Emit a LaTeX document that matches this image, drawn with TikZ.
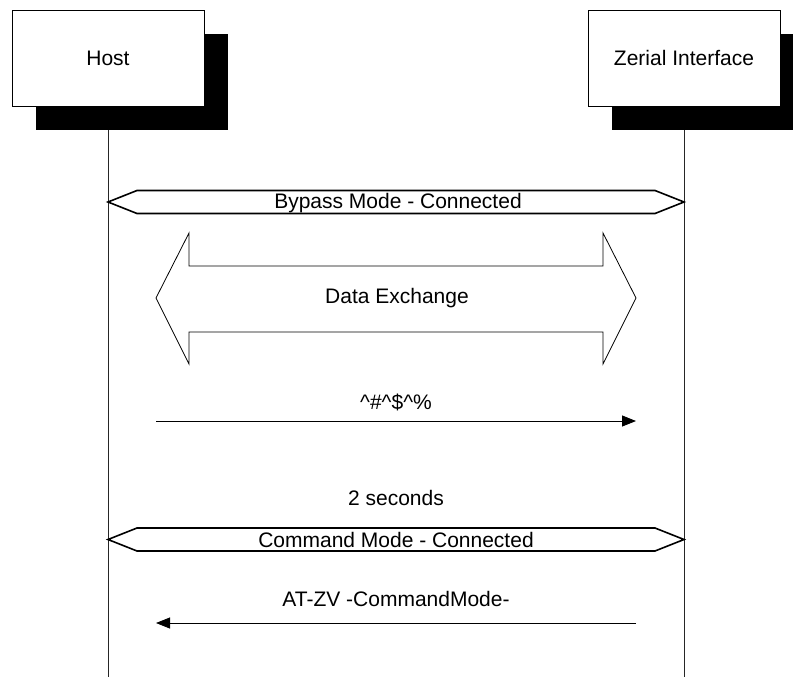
\documentclass[tikz,border=0pt]{standalone}
\usepackage{fontspec}
\setmainfont{Liberation Sans}
\usetikzlibrary{arrows.meta,shadows,backgrounds}
\begin{document}
\begin{tikzpicture}[x=1pt,y=-1pt,
  every node/.style={font=\fontsize{21}{25}\selectfont, inner sep=0pt},
  actor/.style={draw=black, line width=0.8pt, fill=white,
    minimum width=192pt, minimum height=96pt,
    general shadow={shadow xshift=24pt, shadow yshift=-24pt, fill=black}},
  lifeline/.style={draw=black!85, line width=0.8pt},
  band/.style={draw=black, line width=1.6pt, fill=white, line join=miter},
  bigarrow/.style={draw=black, line width=0.8pt, fill=white},
  msg/.style={draw=black, line width=0.8pt, -{Triangle[length=14pt,width=11pt]}}]
\clip (0,0) rectangle (793,677);

% participants
\node[actor] (host) at (108,58) {Host};
\node[actor] (zif)  at (684,58) {Zerial Interface};
\coordinate (hostend) at (108,677);
\coordinate (zifend)  at (684,677);
\begin{scope}[on background layer]
  \draw[lifeline] (host.south) -- (hostend);
  \draw[lifeline] (zif.south) -- (zifend);
\end{scope}

% bypass state band
\draw[band] (108,202) -- (137,190.5) -- (655,190.5) -- (684,202)
  -- (655,213.5) -- (137,213.5) -- cycle;
\node (bypass) at (398,203) {Bypass Mode - Connected};

% two-way data exchange
\draw[bigarrow] (156,298) -- (189,233) -- (189,266) -- (603,266) -- (603,233)
  -- (636,298) -- (603,364) -- (603,332) -- (189,332) -- (189,364) -- cycle;
\node (data) at (397,298) {Data Exchange};

% escape sequence
\node (esc) at (396,402) {\textasciicircum\#\textasciicircum\$\textasciicircum\%};
\coordinate (m1a) at (156,421);
\coordinate (m1b) at (636,421);
\draw[msg] (m1a) -- (m1b);

\node (wait) at (396,498) {2 seconds};

% command state band
\draw[band] (108,539.5) -- (137,528) -- (655,528) -- (684,539.5)
  -- (655,551) -- (137,551) -- cycle;
\node (cmd) at (396,540) {Command Mode - Connected};

% reply
\node (atzv) at (396,599) {AT-ZV -CommandMode-};
\coordinate (m2a) at (636,623);
\coordinate (m2b) at (156,623);
\draw[msg] (m2a) -- (m2b);
\end{tikzpicture}
\end{document}
